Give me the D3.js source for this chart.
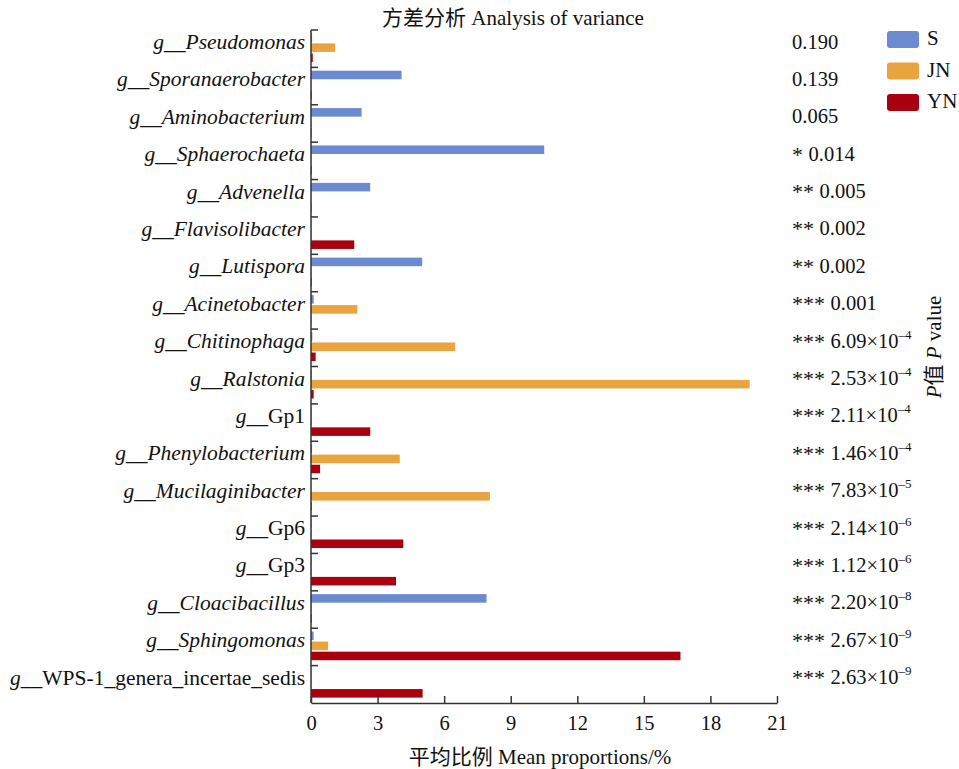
<!DOCTYPE html>
<html>
<head>
<meta charset="utf-8">
<script src="https://cdn.jsdelivr.net/npm/d3@7/dist/d3.min.js"></script>
<style>
  html, body { margin: 0; padding: 0; background: #fff; }
  svg { display: block; font-family: "Liberation Serif", "Noto Sans CJK SC", serif; }
</style>
</head>
<body>
<svg id="chart" width="959" height="769"></svg>
<script>
// ---- data ----
const genera = ["Pseudomonas", "Sporanaerobacter", "Aminobacterium", "Sphaerochaeta", "Advenella",
  "Flavisolibacter", "Lutispora", "Acinetobacter", "Chitinophaga", "Ralstonia", "Gp1",
  "Phenylobacterium", "Mucilaginibacter", "Gp6", "Gp3", "Cloacibacillus", "Sphingomonas",
  "WPS-1_genera_incertae_sedis"];
const italicName = [true, true, true, true, true, true, true, true, true, true, false,
  true, true, false, false, true, true, false];
const seriesNames = ["S", "JN", "YN"];
const sValues  = [0.05, 4.08, 2.28, 10.51, 2.67, 0.01, 5.01, 0.12, 0.06, 0.03, 0.02, 0.05, 0.01, 0.02, 0.02, 7.91, 0.12, 0.01];
const jnValues = [1.09, 0.01, 0.01, 0.01, 0.01, 0.02, 0.02, 2.09, 6.50, 19.77, 0.03, 4.00, 8.06, 0.02, 0.02, 0.02, 0.77, 0.02];
const ynValues = [0.08, 0.03, 0.02, 0.03, 0.02, 1.95, 0.03, 0.01, 0.21, 0.12, 2.67, 0.41, 0.03, 4.16, 3.83, 0.03, 16.65, 5.03];
const pStars    = ["", "", "", "*", "**", "**", "**", "***", "***", "***", "***", "***", "***", "***", "***", "***", "***", "***"];
const pMantissa = ["0.190", "0.139", "0.065", "0.014", "0.005", "0.002", "0.002", "0.001", "6.09", "2.53", "2.11", "1.46", "7.83", "2.14", "1.12", "2.20", "2.67", "2.63"];
const pExponent = [null, null, null, null, null, null, null, null, -4, -4, -4, -4, -5, -6, -6, -8, -9, -9];
const xTicks = [0, 3, 6, 9, 12, 15, 18, 21];
const colors = ["#6b8ad0", "#e9a33f", "#a9000f"];

// ---- layout ----
const svg = d3.select("#chart");
const plotLeft = 311, plotRight = 777, plotTop = 30, plotBottom = 703;
const FS = 21;

const x = d3.scaleLinear().domain([0, 21]).range([plotLeft, plotRight]);
const y = d3.scaleBand().domain(genera).range([plotTop, plotBottom]).padding(0);
const ySub = d3.scaleBand().domain(seriesNames).range([3.3, 32]).paddingInner(0.15);

const valuesBySeries = [sValues, jnValues, ynValues];

// bars
const gBars = svg.append("g");
seriesNames.forEach((s, si) => {
  gBars.selectAll(null)
    .data(genera.map((g, i) => ({ g, v: valuesBySeries[si][i] })))
    .enter().append("rect")
    .attr("x", x(0))
    .attr("y", d => y(d.g) + ySub(s))
    .attr("width", d => x(d.v) - x(0))
    .attr("height", ySub.bandwidth())
    .attr("fill", colors[si]);
});

// bottom axis
const xAxis = svg.append("g")
  .attr("transform", `translate(0,${plotBottom})`)
  .call(d3.axisBottom(x).tickValues(xTicks).tickSizeInner(-7).tickSizeOuter(0).tickPadding(12));
xAxis.select(".domain").attr("stroke", "#333").attr("stroke-width", 1.5);
xAxis.selectAll(".tick line").attr("stroke", "#333").attr("stroke-width", 1.5);
xAxis.selectAll(".tick text").attr("font-size", 20.5).attr("fill", "#111")
  .attr("font-family", "Liberation Serif, serif");

// left axis line + ticks at band boundaries
const gY = svg.append("g");
gY.append("line").attr("x1", x(0)).attr("x2", x(0)).attr("y1", plotTop).attr("y2", plotBottom)
  .attr("stroke", "#333").attr("stroke-width", 1.5);
gY.selectAll(null).data(genera).enter().append("line")
  .attr("x1", x(0)).attr("x2", x(0) + 7)
  .attr("y1", d => y(d)).attr("y2", d => y(d))
  .attr("stroke", "#333").attr("stroke-width", 1.5);

// category labels
const lab = svg.append("g").selectAll(null).data(genera).enter().append("text")
  .attr("x", 305)
  .attr("y", d => y(d) + 12)
  .attr("dominant-baseline", "central")
  .attr("text-anchor", "end")
  .attr("font-size", 21.5)
  .attr("fill", "#111");
lab.each(function (d, i) {
  const t = d3.select(this);
  if (italicName[i]) {
    t.append("tspan").attr("font-style", "italic").text("g__" + d);
  } else {
    t.append("tspan").attr("font-style", "italic").text("g");
    t.append("tspan").text("__" + d);
  }
});

// p-values
const pv = svg.append("g").selectAll(null).data(genera).enter().append("text")
  .attr("x", 792)
  .attr("y", d => y(d) + 11.5)
  .attr("dominant-baseline", "central")
  .attr("font-size", 20.5)
  .attr("fill", "#111");
pv.each(function (d, i) {
  const t = d3.select(this);
  if (pStars[i]) {
    t.append("tspan").attr("font-size", 22).text(pStars[i] + " ");
  }
  if (pExponent[i] === null) {
    t.append("tspan").text(pMantissa[i]);
  } else {
    t.append("tspan").text(pMantissa[i] + "×10");
    t.append("tspan").attr("font-size", 13).attr("dy", -7).text("\u2013" + Math.abs(pExponent[i]));
  }
});

// title
svg.append("text").attr("x", 513).attr("y", 18)
  .attr("text-anchor", "middle").attr("dominant-baseline", "central")
  .attr("font-size", FS).attr("fill", "#111")
  .text("方差分析 Analysis of variance");

// x title
svg.append("text").attr("x", 540).attr("y", 757)
  .attr("text-anchor", "middle").attr("dominant-baseline", "central")
  .attr("font-size", FS).attr("fill", "#111")
  .text("平均比例 Mean proportions/%");

// right title
const rt = svg.append("text")
  .attr("transform", "translate(934,347) rotate(-90)")
  .attr("text-anchor", "middle").attr("dominant-baseline", "central")
  .attr("font-size", FS).attr("fill", "#111");
rt.append("tspan").attr("font-style", "italic").text("P");
rt.append("tspan").text("值 ");
rt.append("tspan").attr("font-style", "italic").text("P");
rt.append("tspan").text(" value");

// legend
const leg = svg.append("g").selectAll(null).data(seriesNames).enter().append("g")
  .attr("transform", (d, i) => `translate(887,${31 + i * 31.5})`);
leg.append("rect").attr("width", 32).attr("height", 17).attr("rx", 3)
  .attr("fill", (d, i) => colors[i]);
leg.append("text").attr("x", 40).attr("y", 7)
  .attr("dominant-baseline", "central").attr("font-size", FS).attr("fill", "#111")
  .text(d => d);
</script>
</body>
</html>
